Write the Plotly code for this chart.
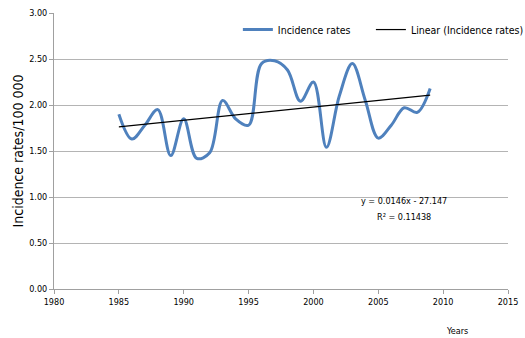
import numpy as np
import plotly.graph_objects as go

years = list(range(1985, 2010))
rates = [1.90, 1.63, 1.78, 1.95, 1.45, 1.85, 1.42, 1.48, 2.05, 1.85,
         1.78, 2.45, 2.48, 2.38, 2.04, 2.25, 1.54, 2.10, 2.45, 2.05,
         1.64, 1.78, 1.97, 1.92, 2.18]
x_ticks = [1980, 1985, 1990, 1995, 2000, 2005, 2010, 2015]
y_ticks = [0, 0.5, 1.0, 1.5, 2.0, 2.5, 3.0]

slope, intercept = np.polyfit(years, rates, 1)
trend = [slope * y + intercept for y in years]

FONT = "DejaVu Sans Condensed, Liberation Sans Narrow, Liberation Sans, Arial"

fig = go.Figure()
fig.add_trace(go.Scatter(x=years, y=rates, mode="lines",
                         line=dict(color="#4f81bd", width=3, shape="spline", smoothing=1.0),
                         name="Incidence rates", legend="legend"))
fig.add_trace(go.Scatter(x=[years[0], years[-1]], y=[trend[0], trend[-1]], mode="lines",
                         line=dict(color="black", width=1.2), name="Linear (Incidence rates)",
                         legend="legend2"))

leg_common = dict(orientation="h", yanchor="middle", xanchor="left", y=0.94,
                  font=dict(size=10.5, family=FONT), bgcolor="rgba(0,0,0,0)", itemwidth=30)

fig.update_layout(
    width=525, height=338,
    margin=dict(l=54, r=17, t=13, b=49, autoexpand=False),
    plot_bgcolor="white", paper_bgcolor="white",
    font=dict(family=FONT, size=9, color="black"),
    showlegend=True,
    legend=dict(x=0.405, **leg_common),
    legend2=dict(x=0.698, **leg_common),
    xaxis=dict(range=[1980, 2015], tickvals=x_ticks, showgrid=False, showline=True,
               linecolor="#a0a0a0", ticks="outside", tickcolor="#a0a0a0", ticklen=4,
               zeroline=False, tickfont=dict(size=9), automargin=False),
    yaxis=dict(range=[0, 3], tickvals=y_ticks, tickformat=".2f", showgrid=True,
               gridcolor="#b4b4b4", gridwidth=1, showline=True, linecolor="#a0a0a0",
               ticks="outside", tickcolor="#a0a0a0", ticklen=4, zeroline=False,
               tickfont=dict(size=9), automargin=False,
               title=dict(text="Incidence rates/100 000", font=dict(size=14, family=FONT), standoff=2)),
    annotations=[
        dict(text="y = 0.0146x - 27.147", x=0.77, y=0.319, xref="paper", yref="paper",
             xanchor="center", yanchor="middle", showarrow=False, font=dict(size=9, family=FONT)),
        dict(text="R² = 0.11438", x=0.77, y=0.261, xref="paper", yref="paper",
             xanchor="center", yanchor="middle", showarrow=False, font=dict(size=9, family=FONT)),
        dict(text="Years", x=0.887, y=-0.152, xref="paper", yref="paper",
             xanchor="center", yanchor="middle", showarrow=False, font=dict(size=9, family=FONT)),
    ],
)

fig.write_html("out.html", config={"displayModeBar": False},
               post_script="document.body.style.margin='0px';")
